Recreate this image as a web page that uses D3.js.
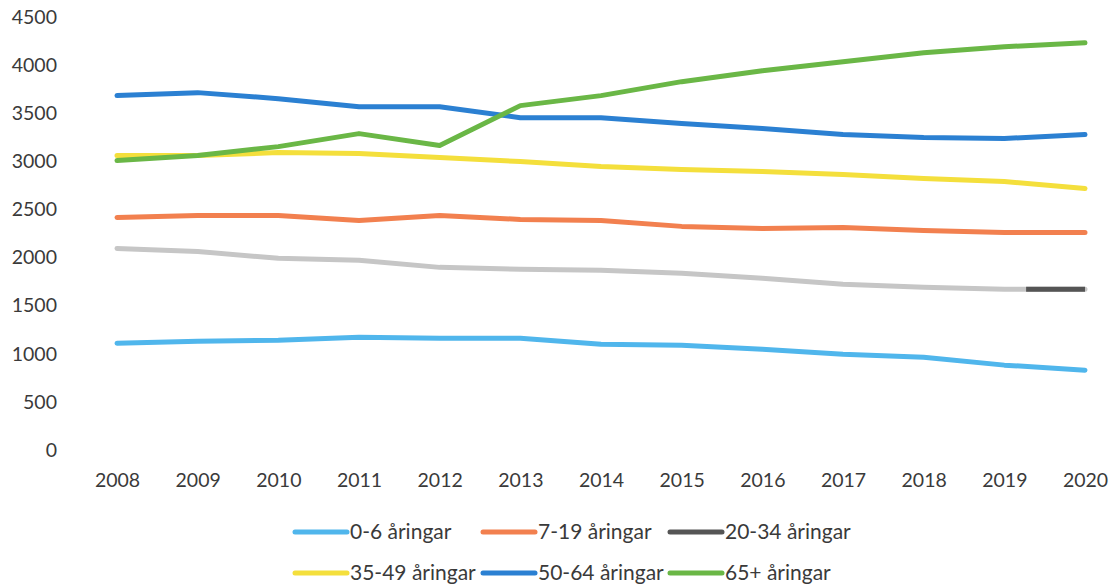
<!DOCTYPE html>
<html>
<head>
<meta charset="utf-8">
<script src="https://cdn.jsdelivr.net/npm/d3@7"></script>
<style>
  body { margin: 0; background: #fff; }
  text { font-family: Lato, "Open Sans", sans-serif; fill: #3a3a3a; }
</style>
</head>
<body>
<script>
const years = [2008, 2009, 2010, 2011, 2012, 2013, 2014, 2015, 2016, 2017, 2018, 2019, 2020]
const yTicks = [0, 500, 1000, 1500, 2000, 2500, 3000, 3500, 4000, 4500]

const names = ['0-6 åringar', '7-19 åringar', '20-34 åringar', '35-49 åringar', '50-64 åringar', '65+ åringar']
const colors = ['#50b6ec', '#f2804f', '#555555', '#f4df3c', '#2b80d2', '#6ab746']

const age0_6 = [1110, 1131, 1141, 1172, 1162, 1162, 1100, 1089, 1048, 996, 965, 882, 830]
const age7_19 = [2417, 2438, 2438, 2386, 2438, 2396, 2386, 2324, 2303, 2313, 2282, 2261, 2261]
const age20_34 = [2095, 2064, 1992, 1971, 1898, 1878, 1867, 1836, 1784, 1722, 1691, 1670, 1670]
const age35_49 = [3060, 3060, 3091, 3081, 3039, 2998, 2946, 2915, 2894, 2863, 2822, 2790, 2718]
const age50_64 = [3683, 3714, 3651, 3568, 3568, 3454, 3454, 3392, 3340, 3278, 3247, 3237, 3278]
const age65 = [3008, 3060, 3153, 3288, 3164, 3579, 3683, 3828, 3942, 4035, 4129, 4191, 4232]

const series = [age0_6, age7_19, age20_34, age35_49, age50_64, age65]

const W = 1109, H = 586
const svg = d3.select('body').append('svg').attr('width', W).attr('height', H)

const x = d3.scaleLinear().domain([2008, 2020]).range([117, 1085])
const y = d3.scaleLinear().domain([0, 4500]).range([450, 17])

// y axis labels
const yAxis = svg.append('g').attr('transform', 'translate(57,0)')
  .call(d3.axisLeft(y).tickValues(yTicks).tickSize(0).tickPadding(0).tickFormat(d3.format('d')))
yAxis.select('.domain').remove()
yAxis.selectAll('text').style('font-size', '19.5px').attr('fill', '#3a3a3a')

// x axis labels
const xAxis = svg.append('g').attr('transform', 'translate(0,473)')
  .call(d3.axisBottom(x).tickValues(years).tickSize(0).tickPadding(0).tickFormat(d3.format('d')))
xAxis.select('.domain').remove()
xAxis.selectAll('text').style('font-size', '19.5px').attr('fill', '#3a3a3a')

const line = d3.line().x((d, i) => x(years[i])).y(d => y(d))

// draw order: lower lines first, then higher
const order = [2, 0, 1, 3, 4, 5]
order.forEach(k => {
  const col = k === 2 ? '#c6c6c6' : colors[k]
  svg.append('path')
    .attr('d', line(series[k]))
    .attr('fill', 'none')
    .attr('stroke', col)
    .attr('stroke-width', 5)
    .attr('stroke-linejoin', 'round')
    .attr('stroke-linecap', 'round')
  if (k === 2) {
    // last part of 20-34 drawn dark
    const n = years.length
    const a = series[k][n - 2], b = series[k][n - 1]
    const seg = d3.line().x(d => x(d[0])).y(d => y(d[1]))
    svg.append('path')
      .attr('d', seg([[years[n - 2] + 0.27, a + 0.27 * (b - a)], [years[n - 1], b]]))
      .attr('fill', 'none')
      .attr('stroke', colors[k])
      .attr('stroke-width', 5)
  }
})

// legend
const legendPos = [[295, 532], [483, 532], [670, 532], [295, 573], [483, 573], [670, 573]]
names.forEach((name, i) => {
  const [lx, ly] = legendPos[i]
  svg.append('line')
    .attr('x1', lx).attr('x2', lx + 52)
    .attr('y1', ly).attr('y2', ly)
    .attr('stroke', colors[i]).attr('stroke-width', 5)
    .attr('stroke-linecap', 'round')
  svg.append('text')
    .attr('x', lx + 55).attr('y', ly)
    .attr('dy', '0.35em')
    .style('font-size', '21px')
    .text(name)
})
</script>
</body>
</html>
